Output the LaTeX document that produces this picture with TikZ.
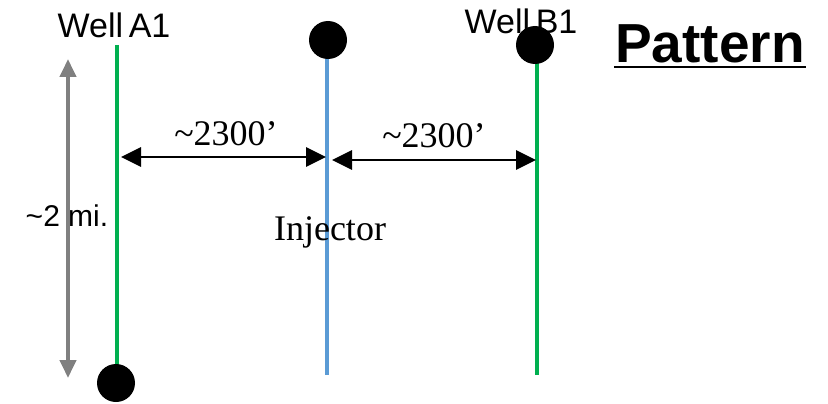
\documentclass[tikz,border=0pt]{standalone}
\usepackage{fontspec}
\setmainfont{Liberation Serif}
\setsansfont{Liberation Sans}
\usetikzlibrary{arrows.meta}
\definecolor{wellgreen}{HTML}{00B050}
\definecolor{injblue}{HTML}{5B9BD5}
\definecolor{arrgray}{HTML}{808080}
\begin{document}
\begin{tikzpicture}[x=1pt,y=-1pt,
  wellline/.style={line width=4pt},
  dotnode/.style={circle,fill=black,minimum size=38pt,inner sep=0pt},
  dimarrow/.style={line width=2.8pt,{Triangle[length=20pt,width=19pt]}-{Triangle[length=20pt,width=19pt]}},
  sanslbl/.style={font=\fontsize{34}{34}\sffamily,inner sep=0pt},
  seriflbl/.style={font=\fontsize{36}{36}\rmfamily,inner sep=0pt}]
\useasboundingbox (0,0) rectangle (828,404);
% wells
\coordinate (a1top) at (117,45);
\coordinate (a1bot) at (117,375);
\coordinate (injtop) at (327,55);
\coordinate (injbot) at (327,375);
\coordinate (b1top) at (537,55);
\coordinate (b1bot) at (537,375);
\draw[wellline,wellgreen] (a1top) -- (a1bot);
\draw[wellline,injblue] (injtop) -- (injbot);
\draw[wellline,wellgreen] (b1top) -- (b1bot);
\node[dotnode] (dota) at (116,383) {};
\node[dotnode] (doti) at (328,40) {};
\node[dotnode] (dotb) at (535,45) {};
% vertical gray arrow
\coordinate (gtop) at (68,59);
\coordinate (gbot) at (68,378);
\draw[line width=4pt,arrgray,{Triangle[length=18pt,width=16pt]}-{Triangle[length=18pt,width=16pt]}] (gtop) -- (gbot);
% horizontal dims
\coordinate (d1l) at (121,157);
\coordinate (d1r) at (326,157);
\coordinate (d2l) at (332,160);
\coordinate (d2r) at (536,160);
\draw[dimarrow] (d1l) -- (d1r);
\draw[dimarrow] (d2l) -- (d2r);
% labels
\node[sanslbl] (wa) at (114,25) {Well\,A1};
\node[sanslbl] (wb) at (521,21) {Well\,B1};
\node[seriflbl] (t1) at (226,134) {\textasciitilde2300’};
\node[seriflbl] (t2) at (434,136) {\textasciitilde2300’};
\node[seriflbl] (inj) at (330,232) {Injector};
\node[sanslbl,font=\fontsize{30}{30}\sffamily] (mi) at (67,216) {\textasciitilde2 mi.};
\node[font=\fontsize{55}{55}\sffamily\bfseries,inner sep=0pt] (pat) at (710,44) {Pattern};
\draw[line width=2.5pt] (614,67) -- (806,67);
\end{tikzpicture}
\end{document}
